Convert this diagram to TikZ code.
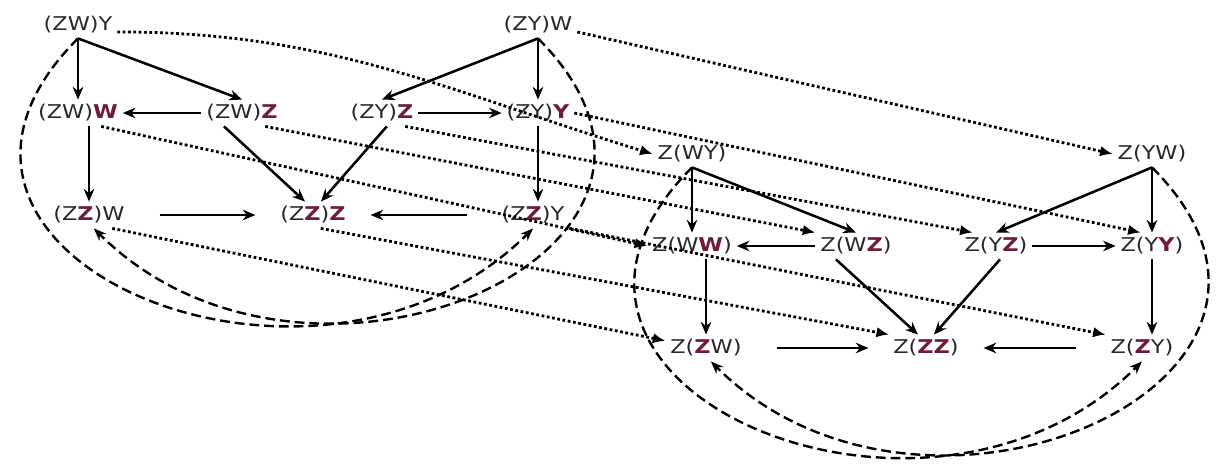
\documentclass[tikz,border=0pt]{standalone}
\usepackage{fontspec}
\newfontfamily\lblfont[FakeStretch=1.18]{DejaVu Sans}
\usetikzlibrary{positioning,arrows.meta}
\definecolor{zred}{RGB}{112,28,52}
\definecolor{ztext}{RGB}{40,40,40}
\newcommand{\redb}[1]{{\color{zred}\bfseries #1}}

\begin{document}
\begin{tikzpicture}[on grid,
  lbl/.style={text=ztext, font=\lblfont\fontsize{13.5pt}{15pt}\selectfont},
  arr/.style={-{Stealth[length=9pt,width=7.5pt]}, line width=1.8pt},
  dotarr/.style={-{Latex[length=9pt,width=7.5pt]}, line width=2pt, dash pattern=on 2pt off 1.8pt},
  dasharr/.style={-{Stealth[length=9pt,width=7pt]}, line width=1.7pt, dash pattern=on 7pt off 3.5pt}]
\useasboundingbox (-1.95,0.625) rectangle (28.675,-11.075);
%the nodes of the left group
\node[lbl] (ZWY) {(ZW)Y};
\node[lbl, right=11.5cm of ZWY] (ZYW) {(ZY)W};
\node[lbl, below=2.2cm of ZWY] (ZWW) {(ZW)\redb{W}};
\node[lbl, right=4.1cm of ZWW] (ZWZ) {(ZW)\redb{Z}};
\node[lbl, right=3.5cm of ZWZ] (ZYZ) {(ZY)\redb{Z}};
\node[lbl, below=2.2cm of ZYW] (ZYY) {(ZY)\redb{Y}};
\node[lbl, below=2.55cm of ZWW, xshift=0.275cm] (ZZW) {(Z\redb{Z})W};
\node[lbl, right=5.6cm of ZZW] (ZZZ) {(Z\redb{Z})\redb{Z}};
\node[lbl, right=5.5cm of ZZZ] (ZZY) {(Z\redb{Z})Y};
%the nodes of the right group
\node[lbl, below right=3.225cm and 15.35cm of ZWY] (WY) {Z(WY)};
\node[lbl, right=11.5cm of WY] (YW) {Z(YW)};
\node[lbl, below=2.3cm of WY] (WW) {Z(W\redb{W})};
\node[lbl, right=4.1cm of WW] (WZ) {Z(W\redb{Z})};
\node[lbl, right=3.5cm of WZ] (YZ) {Z(Y\redb{Z})};
\node[lbl, below=2.3cm of YW] (YY) {Z(Y\redb{Y})};
\node[lbl, below=2.55cm of WW, xshift=0.35cm] (ZW) {Z(\redb{Z}W)};
\node[lbl, right=5.5cm of ZW] (ZZ) {Z(\redb{ZZ})};
\node[lbl, right=5.4cm of ZZ] (ZY) {Z(\redb{Z}Y)};

%solid arrows, left group
\draw[arr] (ZWY.south) -- (ZWW.north);
\draw[arr] (ZWY.south) -- (ZWZ.north);
\draw[arr] (ZYW.south) -- (ZYZ.north);
\draw[arr] (ZYW.south) -- (ZYY.north);
\draw[arr] (ZWZ.west) -- (ZWW.east);
\draw[arr] (ZYZ.east) -- (ZYY.west);
\draw[arr] (ZWW.south -| ZZW) -- (ZZW.north);
\draw[arr] ([xshift=-0.45cm]ZWZ.south) -- ([xshift=-0.2cm]ZZZ.north);
\draw[arr] ([xshift=0.12cm]ZYZ.south) -- ([xshift=0.2cm]ZZZ.north);
\draw[arr] (ZYY.south) -- (ZYY.south |- ZZY.north);
\draw[arr, shorten <=0.75cm, shorten >=0.5cm] (ZZW) -- (ZZZ);
\draw[arr, shorten <=0.75cm, shorten >=0.5cm] (ZZY) -- (ZZZ);
%solid arrows, right group
\draw[arr] (WY.south) -- (WW.north);
\draw[arr] (WY.south) -- (WZ.north);
\draw[arr] (YW.south) -- (YZ.north);
\draw[arr] (YW.south) -- (YY.north);
\draw[arr] (WZ.west) -- (WW.east);
\draw[arr] (YZ.east) -- (YY.west);
\draw[arr] (WW.south -| ZW) -- (ZW.north);
\draw[arr] ([xshift=-0.5cm]WZ.south) -- ([xshift=-0.2cm]ZZ.north);
\draw[arr] ([xshift=0.1cm]YZ.south) -- ([xshift=0.2cm]ZZ.north);
\draw[arr] (YY.south) -- (YY.south |- ZY.north);
\draw[arr, shorten <=0.75cm, shorten >=0.5cm] (ZW) -- (ZZ);
\draw[arr, shorten <=0.75cm, shorten >=0.5cm] (ZY) -- (ZZ);

%dashed loops
\draw[dasharr] (ZWY.south) to[out=225,in=225,looseness=1.6] (ZZY.south);
\draw[dasharr] (ZYW.south) to[out=315,in=315,looseness=1.6] (ZZW.-70);
\draw[dasharr] (WY.south) to[out=225,in=225,looseness=1.6] (ZY.south);
\draw[dasharr] (YW.south) to[out=315,in=315,looseness=1.6] (ZW.-70);

%dotted maps from left to right
\draw[dotarr] (ZWY.-10) to[out=0,in=163] (WY.west);
\draw[dotarr] (ZYW.-10) -- (YW.west);
\draw[dotarr] (ZWW.-30) -- (WW.west);
\draw[dotarr] (ZWZ.-30) -- (WZ.north west);
\draw[dotarr] (ZYZ.-30) -- (YZ.150);
\draw[dotarr] (ZYY.east) -- (YY.130);
\draw[dotarr] (ZZW.-30) -- (ZW.170);
\draw[dotarr] (ZZZ.-60) -- (ZZ.160);
\draw[dotarr] (ZZY.-20) -- (ZY.160);
\end{tikzpicture}
\end{document}
